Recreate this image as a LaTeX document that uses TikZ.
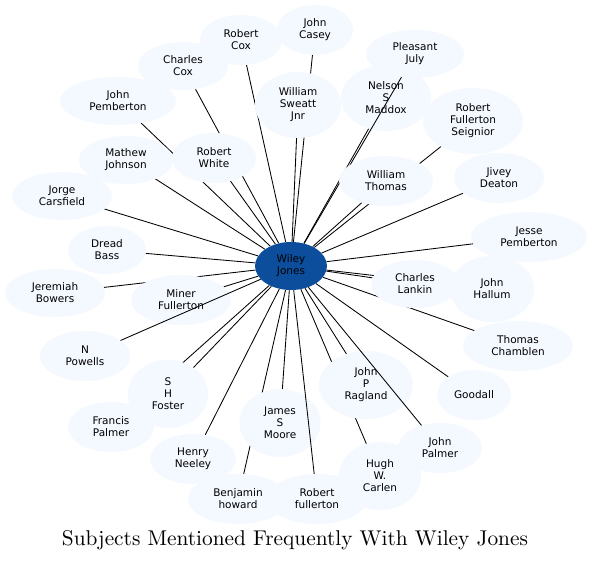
\documentclass[tikz,border=0pt]{standalone}
\usepackage{fontspec}
\usepackage{graphicx}
\newfontfamily\dvsans{DejaVu Sans}
\usetikzlibrary{shapes.geometric,backgrounds}
\definecolor{nodefill}{RGB}{244,248,255}
\definecolor{centerfill}{RGB}{12,78,155}
\begin{document}
\begin{tikzpicture}[x=1pt,y=-1pt,
  person/.style 2 args={ellipse, fill=nodefill, inner sep=0pt, minimum width=#1pt, minimum height=#2pt, align=center, font=\dvsans\fontsize{10.5}{12}\selectfont},
  hub/.style={person={72}{48}, fill=centerfill},
  link/.style={draw=black, line width=0.85pt},
  titlestyle/.style={anchor=base, inner sep=0pt}]
\useasboundingbox (0,0) rectangle (592,560);
% nodes (main layer)
\node[hub] (wiley) at (291,266) {Wiley\\Jones};
\node[person={82}{50}] (rcox) at (241,40) {Robert\\Cox};
\node[person={90}{48}] (ccox) at (183,66) {Charles\\Cox};
\node[person={116}{48}] (jpem) at (118,101) {John\\Pemberton};
\node[person={94}{48}] (mjohn) at (126,160) {Mathew\\Johnson};
\node[person={84}{50}] (rwhite) at (214,158) {Robert\\White};
\node[person={100}{48}] (jorge) at (62,196) {Jorge\\Carsfield};
\node[person={86}{66}] (wsj) at (298,105) {William\\Sweatt\\Jnr};
\node[person={76}{50}] (jcasey) at (315,30) {John\\Casey};
\node[person={90}{66}] (nelson) at (386,98) {Nelson\\S\\Maddox};
\node[person={98}{48}] (pjuly) at (415,54) {Pleasant\\July};
\draw[link] (wiley) -- (pjuly);
\node[person={94}{50}] (wthomas) at (386,181) {William\\Thomas};
\node[person={100}{66}] (rfs) at (473,121) {Robert\\Fullerton\\Seignior};
\node[person={90}{50}] (jivey) at (499,178) {Jivey\\Deaton};
\node[person={78}{48}] (dread) at (107,250) {Dread\\Bass};
\node[person={100}{48}] (jbowers) at (55,293) {Jeremiah\\Bowers};
\node[person={90}{50}] (npowells) at (85,356) {N\\Powells};
\node[person={100}{50}] (miner) at (181,300) {Miner\\Fullerton};
\draw[link] (wiley) -- (npowells);
\node[person={116}{50}] (jessep) at (529,237) {Jesse\\Pemberton};
\node[person={88}{48}] (clankin) at (415,284) {Charles\\Lankin};
\node[person={84}{66}] (jhallum) at (492,289) {John\\Hallum};
\node[person={110}{50}] (tchamb) at (518,346) {Thomas\\Chamblen};
\node[person={80}{68}] (shf) at (168,394) {S\\H\\Foster};
\node[person={86}{50}] (fpalmer) at (111,427) {Francis\\Palmer};
\node[person={86}{50}] (hneeley) at (193,459) {Henry\\Neeley};
\node[person={81}{68}] (jsm) at (280,423) {James\\S\\Moore};
\node[person={100}{50}] (bhoward) at (238,499) {Benjamin\\howard};
\node[person={100}{50}] (rfull) at (317,499) {Robert\\fullerton};
\draw[link] (wiley) -- (rfull);
\node[person={94}{68}] (jpr) at (366,385) {John\\P\\Ragland};
\node[person={82}{68}] (hugh) at (380,476) {Hugh\\W.\\Carlen};
\node[person={84}{50}] (jpalmer) at (440,448) {John\\Palmer};
\draw[link] (wiley) -- (jpalmer);
\node[person={74}{50}] (goodall) at (474,395) {Goodall};
% title
\node[titlestyle] (title) at (295,545) {\resizebox{466pt}{!}{Subjects Mentioned Frequently With Wiley Jones}};
% edges hidden beneath nodes
\begin{pgfonlayer}{background}
\fill[white] (0,0) rectangle (592,560);
\foreach \t in {rcox,ccox,jpem,mjohn,rwhite,jorge,wsj,jcasey,nelson,wthomas,rfs,jivey,dread,jbowers,miner,jessep,clankin,jhallum,tchamb,shf,fpalmer,hneeley,jsm,bhoward,jpr,hugh,goodall}
  \draw[link] (wiley) -- (\t);
\end{pgfonlayer}
\end{tikzpicture}
\end{document}
